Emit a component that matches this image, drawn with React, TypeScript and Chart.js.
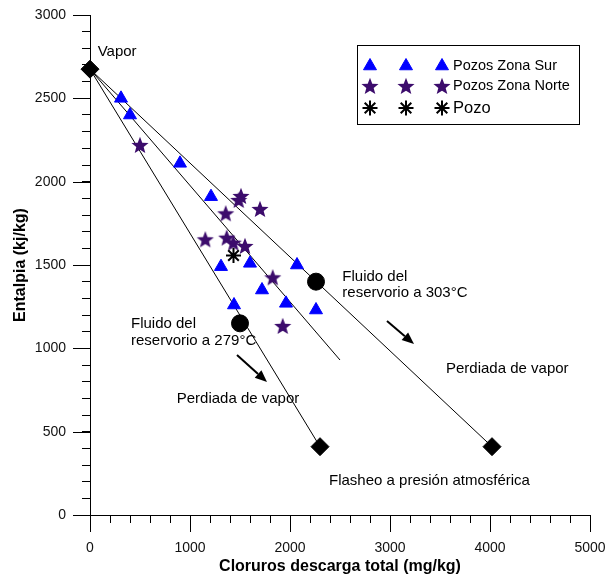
import React, { useEffect, useRef } from "react";
import { Chart, registerables } from "chart.js";
import { drawPoint } from "chart.js/helpers";

Chart.register(...registerables);

// Pozos Zona Sur (triangles)
const surCl = [310, 400, 900, 1210, 1310, 1600, 2070, 1720, 1960, 1440, 2260];
const surH = [2500, 2400, 2110, 1910, 1490, 1510, 1500, 1350, 1270, 1260, 1230];

// Pozos Zona Norte (stars)
const norteCl = [500, 1510, 1487, 1700, 1357, 1153, 1367, 1433, 1550, 1827, 1927];
const norteH = [2220, 1914, 1890, 1836, 1810, 1654, 1664, 1634, 1614, 1426, 1134];

// Pozo (asterisk)
const pozoCl = [1435];
const pozoH = [1557];

// End members: vapour and atmospheric flash points (diamonds)
const endCl = [0, 2300, 4020];
const endH = [2675, 410, 410];

// Reservoir fluids at 279 °C and 303 °C (circles)
const resCl = [1500, 2260];
const resH = [1150, 1400];

// Mixing / boiling lines, all starting at the vapour point
const lineEndCl = [2300, 2500, 4020];
const lineEndH = [410, 930, 410];

// Axis ticks
const xMajorTicks = [0, 1000, 2000, 3000, 4000, 5000];
const yMajorTicks = [0, 500, 1000, 1500, 2000, 2500, 3000];

// Annotations, anchored in data units (left edge, text middle)
const noteText = [
  "Vapor",
  "Fluido del",
  "reservorio a 303°C",
  "Perdiada de vapor",
  "Flasheo a presión atmosférica",
  "Fluido del",
  "reservorio a 279°C",
  "Perdiada de vapor",
];
const noteCl = [77, 2523, 2523, 3560, 2390, 410, 410, 867];
const noteH = [2780, 1430, 1330, 874, 204, 1146, 1046, 696];

// Arrows "Perdiada de vapor": [fromCl, fromH, toCl, toH]
const arrows = [
  [2970, 1164, 3240, 1026],
  [1470, 960, 1770, 798],
];

const FONT = "'Liberation Sans', Arial, sans-serif";
const BLUE = "#0000ff";
const PURPLE = "#3c0c6c";

function makeStar(r: number, color: string): HTMLCanvasElement {
  const size = Math.ceil(r * 2) + 2;
  const c = document.createElement("canvas");
  c.width = size;
  c.height = size;
  const g = c.getContext("2d")!;
  const cx = size / 2;
  const cy = size / 2 + r * 0.09;
  g.beginPath();
  for (let i = 0; i < 10; i++) {
    const a = -Math.PI / 2 + (i * Math.PI) / 5;
    const rr = i % 2 === 0 ? r : r * 0.43;
    g.lineTo(cx + rr * Math.cos(a), cy + rr * Math.sin(a));
  }
  g.closePath();
  g.fillStyle = color;
  g.fill();
  return c;
}

const pts = (xs: number[], ys: number[]) => xs.map((x, i) => ({ x, y: ys[i] }));

export default function App() {
  const ref = useRef<HTMLCanvasElement>(null);

  useEffect(() => {
    const star = makeStar(9, PURPLE);

    const triangleStyle = { pointStyle: "triangle", radius: 7.5, borderWidth: 1, rotation: 0 };
    const asteriskStyle = { pointStyle: "star", radius: 7.5, borderWidth: 2, rotation: 0 };

    const legendEntries = [
      { label: "Pozos Zona Sur", size: 14.5, kind: "tri" },
      { label: "Pozos Zona Norte", size: 14.5, kind: "star" },
      { label: "Pozo", size: 16.5, kind: "ast" },
    ];

    const axesPlugin = {
      id: "majorTicks",
      beforeDatasetsDraw(chart: any) {
        const { ctx, chartArea, scales } = chart;
        const xs = scales.x;
        const ys = scales.y;
        ctx.save();
        ctx.strokeStyle = "#000";
        ctx.lineWidth = 1;
        ctx.beginPath();
        for (const v of xMajorTicks) {
          const px = Math.round(xs.getPixelForValue(v)) + 0.5;
          ctx.moveTo(px, chartArea.bottom);
          ctx.lineTo(px, chartArea.bottom + 17);
        }
        for (const v of yMajorTicks) {
          const py = Math.round(ys.getPixelForValue(v)) + 0.5;
          ctx.moveTo(chartArea.left, py);
          ctx.lineTo(chartArea.left - 17, py);
        }
        ctx.stroke();
        ctx.restore();
      },
    };

    const notesPlugin = {
      id: "notes",
      afterDraw(chart: any) {
        const { ctx, scales } = chart;
        const xs = scales.x;
        const ys = scales.y;
        ctx.save();
        ctx.fillStyle = "#000";
        ctx.font = `15px ${FONT}`;
        ctx.textAlign = "left";
        ctx.textBaseline = "middle";
        noteText.forEach((t, i) => {
          ctx.fillText(t, xs.getPixelForValue(noteCl[i]), ys.getPixelForValue(noteH[i]));
        });
        // arrows
        ctx.strokeStyle = "#000";
        ctx.lineWidth = 2;
        for (const [x0, y0, x1, y1] of arrows) {
          const ax = xs.getPixelForValue(x0);
          const ay = ys.getPixelForValue(y0);
          const bx = xs.getPixelForValue(x1);
          const by = ys.getPixelForValue(y1);
          const ang = Math.atan2(by - ay, bx - ax);
          const head = 12;
          const half = 5;
          const sx = bx - head * Math.cos(ang);
          const sy = by - head * Math.sin(ang);
          ctx.beginPath();
          ctx.moveTo(ax, ay);
          ctx.lineTo(sx, sy);
          ctx.stroke();
          ctx.beginPath();
          ctx.moveTo(bx, by);
          ctx.lineTo(sx + half * Math.sin(ang), sy - half * Math.cos(ang));
          ctx.lineTo(sx - half * Math.sin(ang), sy + half * Math.cos(ang));
          ctx.closePath();
          ctx.fill();
        }
        // legend box
        const bx0 = 357.5, by0 = 45.5, bw = 222, bh = 79;
        ctx.lineWidth = 1;
        ctx.strokeStyle = "#000";
        ctx.strokeRect(bx0, by0, bw, bh);
        const rowsY = [66, 86, 108];
        const markX = [370, 406, 442];
        legendEntries.forEach((e, i) => {
          const y = rowsY[i];
          for (const mx of markX) {
            if (e.kind === "tri") {
              ctx.fillStyle = BLUE;
              ctx.strokeStyle = BLUE;
              ctx.lineWidth = 1;
              drawPoint(ctx, triangleStyle as any, mx, y);
            } else if (e.kind === "star") {
              ctx.drawImage(star, mx - star.width / 2, y - star.height / 2);
            } else {
              ctx.strokeStyle = "#000";
              ctx.lineWidth = 2;
              drawPoint(ctx, asteriskStyle as any, mx, y);
            }
          }
          ctx.fillStyle = "#000";
          ctx.font = `${e.size}px ${FONT}`;
          ctx.textBaseline = "middle";
          ctx.fillText(e.label, 453, y);
        });
        ctx.restore();
      },
    };

    const lineSets = lineEndCl.map((cl, i) => ({
      type: "line" as const,
      label: "linea" + i,
      data: [
        { x: endCl[0], y: endH[0] },
        { x: cl, y: lineEndH[i] },
      ],
      borderColor: "#000",
      borderWidth: 1,
      pointRadius: 0,
      fill: false,
      clip: false as any,
    }));

    const chart = new Chart(ref.current!, {
      type: "scatter",
      data: {
        datasets: [
          {
            label: "Pozo",
            data: pts(pozoCl, pozoH),
            pointStyle: "star",
            pointRadius: 7.5,
            borderColor: "#000",
            backgroundColor: "#000",
            pointBorderWidth: 2,
            clip: false as any,
          },
          {
            label: "Pozos Zona Norte",
            data: pts(norteCl, norteH),
            pointStyle: star as any,
            pointRadius: 9,
            clip: false as any,
          },
          {
            label: "Pozos Zona Sur",
            data: pts(surCl, surH),
            pointStyle: "triangle",
            pointRadius: 7.5,
            backgroundColor: BLUE,
            borderColor: BLUE,
            pointBorderWidth: 1,
            clip: false as any,
          },
          {
            label: "Fluido del reservorio",
            data: pts(resCl, resH),
            pointStyle: "circle",
            pointRadius: 8.5,
            backgroundColor: "#000",
            borderColor: "#000",
            clip: false as any,
          },
          {
            label: "Vapor / Flasheo",
            data: pts(endCl, endH),
            pointStyle: "rectRot",
            pointRadius: 9,
            backgroundColor: "#000",
            borderColor: "#000",
            clip: false as any,
          },
          ...(lineSets as any[]),
        ],
      },
      options: {
        responsive: false,
        animation: false,
        events: [],
        layout: { padding: { top: 15, right: 18, left: 0, bottom: 0 } },
        plugins: {
          legend: { display: false },
          tooltip: { enabled: false },
        },
        scales: {
          x: {
            type: "linear",
            position: "bottom",
            min: 0,
            max: 5000,
            afterFit: (s: any) => {
              s.height = 63;
              s.paddingLeft = 0;
              s.paddingRight = 0;
            },
            ticks: {
              stepSize: 200,
              maxTicksLimit: 100,
              autoSkip: false,
              maxRotation: 0,
              padding: 17,
              color: "#111",
              font: { family: FONT, size: 14 },
              callback: (v: any) => (Number(v) % 1000 === 0 ? String(v) : ""),
            },
            grid: { drawOnChartArea: false, drawTicks: true, tickLength: 8, color: "#000" },
            border: { display: true, color: "#000", width: 1 },
            title: {
              display: true,
              text: "Cloruros descarga total (mg/kg)",
              color: "#000",
              font: { family: FONT, size: 16, weight: "bold" },
              padding: { top: 0, bottom: 2 },
            },
          },
          y: {
            type: "linear",
            position: "left",
            min: 0,
            max: 3000,
            afterFit: (s: any) => {
              s.width = 90;
              s.paddingTop = 0;
              s.paddingBottom = 0;
            },
            ticks: {
              stepSize: 100,
              maxTicksLimit: 100,
              autoSkip: false,
              padding: 16,
              color: "#111",
              font: { family: FONT, size: 14 },
              callback: (v: any) => (Number(v) % 500 === 0 ? String(v) : ""),
            },
            grid: { drawOnChartArea: false, drawTicks: true, tickLength: 8, color: "#000" },
            border: { display: true, color: "#000", width: 1 },
            title: {
              display: true,
              text: "Entalpia (kj/kg)",
              color: "#000",
              font: { family: FONT, size: 16, weight: "bold" },
              padding: { top: 11, bottom: 0 },
            },
          },
        },
      } as any,
      plugins: [axesPlugin, notesPlugin],
    });

    return () => chart.destroy();
  }, []);

  return (
    <div style={{ position: "absolute", left: 0, top: 0, width: 608, height: 578, background: "#fff" }}>
      <canvas ref={ref} width={608} height={578} style={{ display: "block" }} />
    </div>
  );
}
